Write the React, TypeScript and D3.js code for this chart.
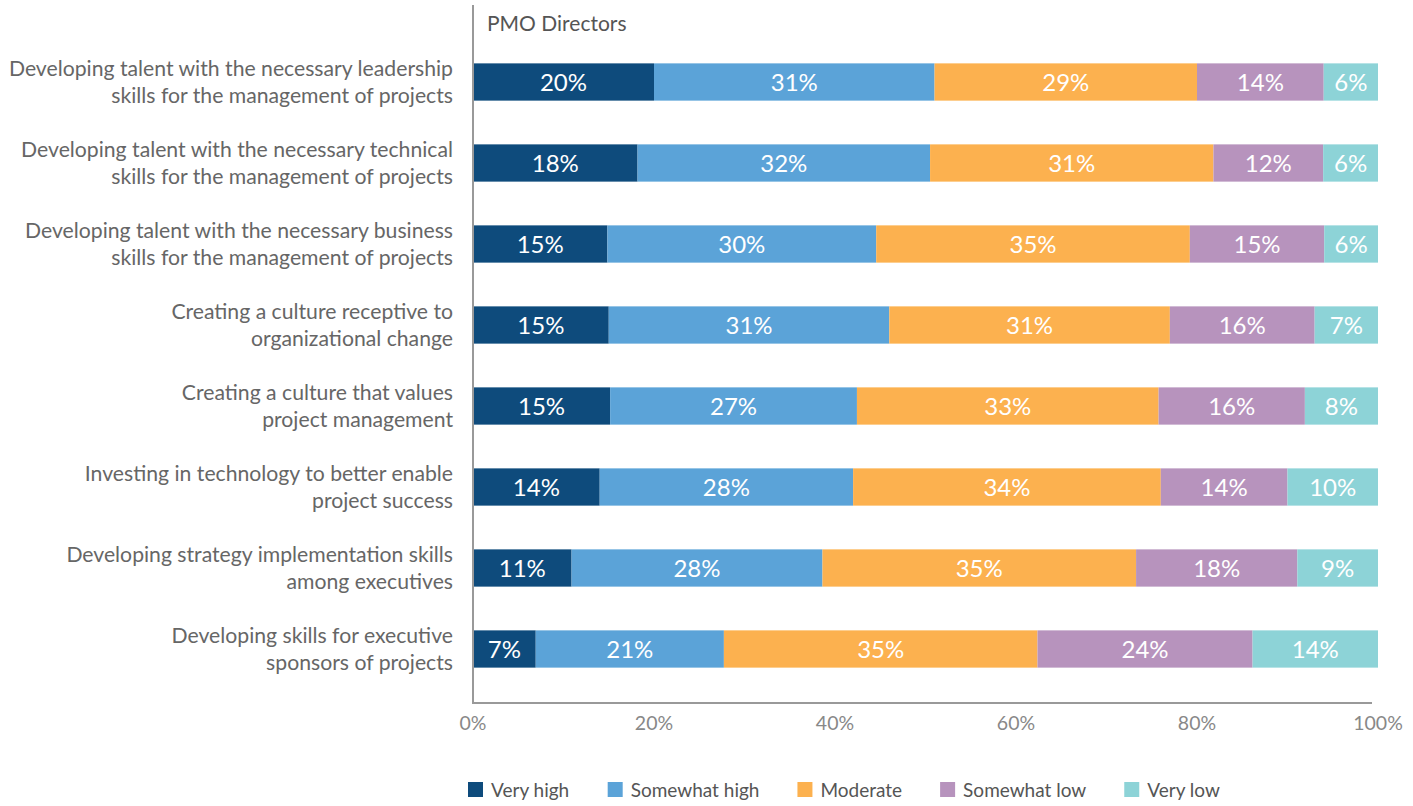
import React from "react";
import * as d3 from "d3";

const categories: string[][] = [
  ["Developing talent with the necessary leadership", "skills for the management of projects"],
  ["Developing talent with the necessary technical", "skills for the management of projects"],
  ["Developing talent with the necessary business", "skills for the management of projects"],
  ["Creating a culture receptive to", "organizational change"],
  ["Creating a culture that values", "project management"],
  ["Investing in technology to better enable", "project success"],
  ["Developing strategy implementation skills", "among executives"],
  ["Developing skills for executive", "sponsors of projects"],
];

const seriesNames = ["Very high", "Somewhat high", "Moderate", "Somewhat low", "Very low"];
const veryHigh = [20, 18, 15, 15, 15, 14, 11, 7];
const somewhatHigh = [31, 32, 30, 31, 27, 28, 28, 21];
const moderate = [29, 31, 35, 31, 33, 34, 35, 35];
const somewhatLow = [14, 12, 15, 16, 16, 14, 18, 24];
const veryLow = [6, 6, 6, 7, 8, 10, 9, 14];
const seriesValues = [veryHigh, somewhatHigh, moderate, somewhatLow, veryLow];
const colors = ["#0e4b7c", "#5ba3d8", "#fcb14f", "#b793bd", "#8dd3d7"];
const ticks = [0, 20, 40, 60, 80, 100];
const title = "PMO Directors";

const FONT = "Lato, 'Open Sans', sans-serif";

function textWidth(t: string, size: number) {
  const c = document.createElement("canvas").getContext("2d");
  if (!c) return t.length * size * 0.5;
  c.font = `${size}px Lato`;
  return c.measureText(t).width;
}

export default function App() {
  const W = 1413, H = 806;
  const x0 = 473, x1 = 1378;
  const x = d3.scaleLinear().domain([0, 1]).range([x0, x1]);
  const y = d3.scaleBand<number>().domain(d3.range(categories.length)).range([41.5, 689.5]).paddingInner(0.54).paddingOuter(0.27);

  const rows = categories.map((_, i) => {
    const r: any = { i };
    seriesNames.forEach((s, k) => (r[s] = seriesValues[k][i]));
    return r;
  });
  const stack = d3.stack<any>().keys(seriesNames).offset(d3.stackOffsetExpand);
  const layers = stack(rows);

  // legend layout
  const legendSize = 19;
  let lx = 468;
  const legendItems = seriesNames.map((s, k) => {
    const item = { s, k, x: lx };
    lx += 15 + 8 + textWidth(s, legendSize) + 38;
    return item;
  });

  return (
    <svg width={W} height={H} style={{ position: "absolute", left: 0, top: 0, fontFamily: FONT }}>
      <rect width={W} height={H} fill="#fff" />
      <text x={487} y={31} fontSize={21} fill="#555">{title}</text>
      {layers.map((layer, k) => (
        <g key={k}>
          {layer.map((d, i) => {
            const xs = x(d[0]), xe = x(d[1]);
            const yy = y(i) as number;
            return (
              <g key={i}>
                <rect x={xs} y={yy} width={xe - xs} height={y.bandwidth()} fill={colors[k]} />
                <text x={(xs + xe) / 2} y={yy + y.bandwidth() / 2 + 8.5} textAnchor="middle" fontSize={24} fill="#fff">
                  {seriesValues[k][i]}%
                </text>
              </g>
            );
          })}
        </g>
      ))}
      {categories.map((c, i) => {
        const cy = (y(i) as number) + y.bandwidth() / 2;
        return (
          <text key={i} x={453} textAnchor="end" fontSize={21.2} fill="#666">
            <tspan x={453} y={cy - 6}>{c[0]}</tspan>
            <tspan x={453} y={cy + 21}>{c[1]}</tspan>
          </text>
        );
      })}
      <line x1={x0} x2={x0} y1={5} y2={704} stroke="#999" strokeWidth={2} />
      <line x1={x0 - 1} x2={1372} y1={703} y2={703} stroke="#999" strokeWidth={2} />
      {ticks.map((t) => (
        <text key={t} x={x(t / 100)} y={730} textAnchor="middle" fontSize={19.5} fill="#888">
          {t}%
        </text>
      ))}
      {legendItems.map((it) => (
        <g key={it.s}>
          <rect x={it.x} y={782} width={15} height={15} fill={colors[it.k]} />
          <text x={it.x + 23} y={797} fontSize={legendSize} fill="#555">{it.s}</text>
        </g>
      ))}
    </svg>
  );
}
